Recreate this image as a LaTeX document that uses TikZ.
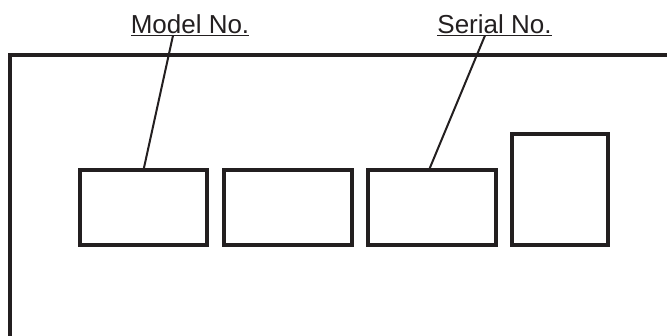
\documentclass[tikz,border=0pt]{standalone}
\usepackage{fontspec}
\setmainfont{Liberation Sans}
\definecolor{ink}{HTML}{231F20}
\begin{document}
\begin{tikzpicture}[x=1pt,y=-1pt,
  frame/.style={draw=ink,line width=3.4pt},
  panel/.style={draw=ink,line width=3.4pt,inner sep=0pt,outer sep=0pt},
  label/.style={inner sep=0pt,outer sep=0pt,anchor=base,text=ink,font=\fontsize{26}{30}\selectfont},
  leader/.style={draw=ink,line width=2pt},
  uline/.style={draw=ink,line width=1.4pt}]
\useasboundingbox (0,0) rectangle (667,335);

% housing outline
\coordinate (topright) at (670,55);
\coordinate (corner) at (10,55);
\coordinate (bottomleft) at (10,338);
\draw[frame] (topright) -- (corner) -- (bottomleft);

% label plates
\node[panel,minimum width=127pt,minimum height=75pt] (plateA) at (143.5,207.5) {};
\node[panel,minimum width=128pt,minimum height=75pt] (plateB) at (288,207.5) {};
\node[panel,minimum width=128pt,minimum height=75pt] (plateC) at (432,207.5) {};
\node[panel,minimum width=96pt,minimum height=111pt] (plateD) at (560,189.5) {};

% captions
\node[label] (model) at (190,33) {Model No.};
\node[label] (serial) at (494.5,33) {Serial No.};
\draw[uline] ([yshift=-2.5pt]model.base west) -- ([yshift=-2.5pt]model.base east);
\draw[uline] ([yshift=-2.5pt]serial.base west) -- ([yshift=-2.5pt]serial.base east);

% leader lines
\coordinate (modelfoot) at (173,35.5);
\coordinate (serialfoot) at (485,35.5);
\draw[leader] (modelfoot) -- (plateA.north);
\draw[leader] (serialfoot) -- ([xshift=-3pt]plateC.north);
\end{tikzpicture}
\end{document}
